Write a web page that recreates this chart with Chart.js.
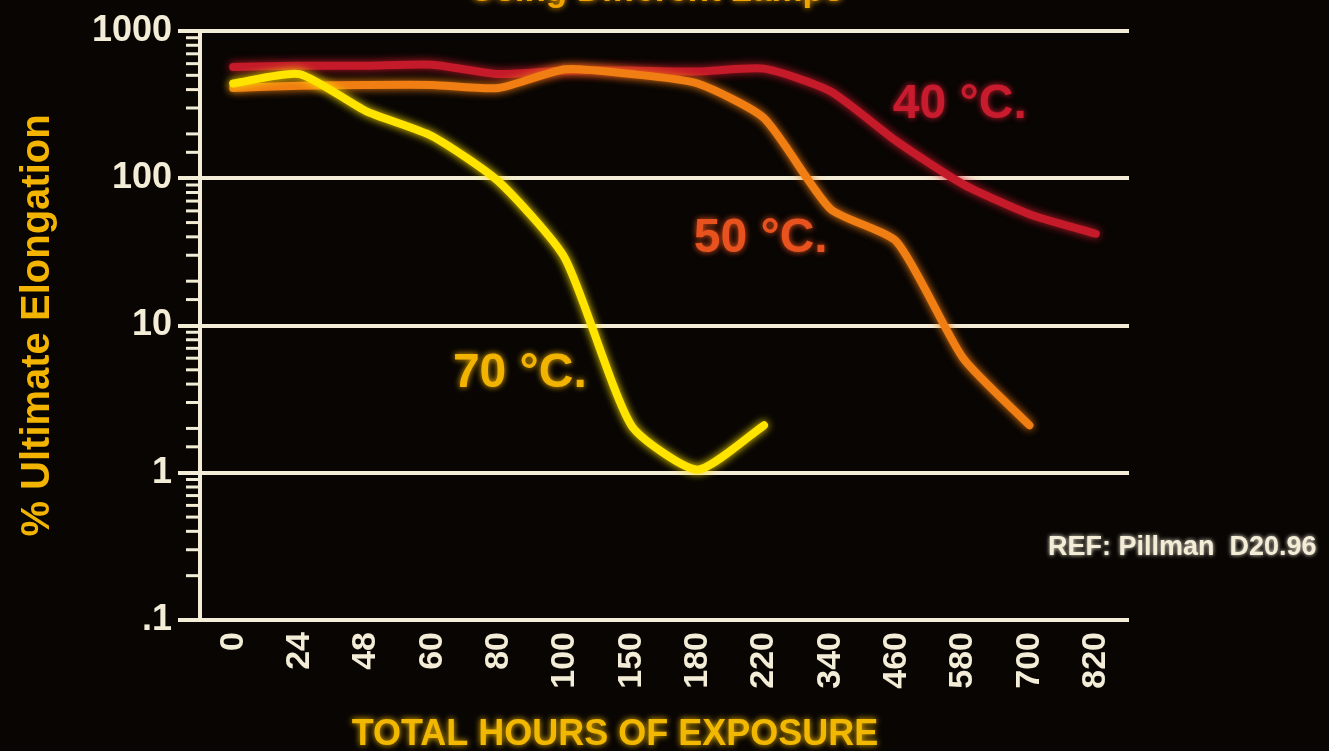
<!DOCTYPE html>
<html>
<head>
<meta charset="utf-8">
<script src="https://cdn.jsdelivr.net/npm/chart.js@4.4.1/dist/chart.umd.min.js"></script>
<style>
html, body { margin: 0; padding: 0; background: #080503; }
#wrap { position: relative; width: 1329px; height: 751px; }
</style>
</head>
<body>
<div id="wrap"><canvas id="elong" width="1329" height="751"></canvas></div>
<script>
// hours of exposure (category axis)
const hours = ['0', '24', '48', '60', '80', '100', '150', '180', '220', '340', '460', '580', '700', '820'];

// % ultimate elongation
const temp40 = [570, 580, 580, 590, 510, 540, 540, 530, 555, 390, 178, 91, 57, 42];
const temp50 = [410, 425, 430, 430, 410, 550, 510, 440, 256, 62, 37, 6.0, 2.1, null];
const temp70 = [440, 510, 286, 193, 95, 28.6, 2.1, 1.05, 2.1, null, null, null, null, null];

const yMajors = [1000, 100, 10, 1, 0.1];
const yMajorText = ['1000', '100', '10', '1', '.1'];

const cream = '#f3ecd6';

function isMajor(v) {
  const l = Math.log10(v);
  return Math.abs(l - Math.round(l)) < 1e-6;
}

function majorText(v) {
  for (var i = 0; i < yMajors.length; i++) {
    if (Math.abs(yMajors[i] - v) < 1e-9) return yMajorText[i];
  }
  return '';
}

// curve labels, placed on the chart's own scales (category index, value)
const curveLabels = [
  { text: '40 °C.', color: '#c81c2e', at: 10.95, val: 318 },
  { text: '50 °C.', color: '#e8521e', at: 7.95, val: 39 },
  { text: '70 °C.', color: '#f2b400', at: 4.32, val: 4.7 }
];

const extras = {
  id: 'extras',
  beforeDatasetDraw(chart, args) {
    const ctx = chart.ctx;
    ctx.save();
    ctx.shadowColor = args.meta.dataset.options.borderColor;
    ctx.shadowBlur = 8;
  },
  afterDatasetDraw(chart) {
    chart.ctx.restore();
  },
  afterDraw(chart) {
    const ctx = chart.ctx;
    const y = chart.scales.y;
    const x = chart.scales.x;
    const axisX = chart.chartArea.left;

    // short minor ticks on the log axis
    ctx.save();
    ctx.strokeStyle = cream;
    ctx.lineWidth = 3;
    y.ticks.forEach(function(t) {
      if (isMajor(t.value)) return;
      const py = y.getPixelForValue(t.value);
      ctx.beginPath();
      ctx.moveTo(axisX - 14, py);
      ctx.lineTo(axisX, py);
      ctx.stroke();
    });
    ctx.restore();

    // temperature labels
    ctx.save();
    ctx.font = 'bold 48px "Liberation Sans", Arial, sans-serif';
    ctx.textAlign = 'center';
    ctx.textBaseline = 'middle';
    curveLabels.forEach(function(l) {
      ctx.fillStyle = l.color;
      ctx.shadowColor = l.color;
      ctx.shadowBlur = 6;
      ctx.fillText(l.text, x.getPixelForValue(l.at), y.getPixelForValue(l.val));
    });
    ctx.restore();

    // x axis title (sits left of centre on the slide)
    ctx.save();
    ctx.font = 'bold 36px "Liberation Sans", Arial, sans-serif';
    ctx.fillStyle = '#f2b800';
    ctx.shadowColor = '#f2b800';
    ctx.shadowBlur = 6;
    ctx.textAlign = 'center';
    ctx.textBaseline = 'middle';
    ctx.fillText('TOTAL HOURS OF EXPOSURE', 615, 735);

    // slide title, cut off by the top edge
    ctx.font = 'bold 35px "Liberation Sans", Arial, sans-serif';
    ctx.fillStyle = '#f0a400';
    ctx.shadowColor = '#f0a400';
    ctx.textAlign = 'left';
    ctx.textBaseline = 'alphabetic';
    ctx.fillText('Using Different Lamps', 470, 1);

    // reference note
    ctx.font = 'bold 27px "Liberation Sans", Arial, sans-serif';
    ctx.fillStyle = cream;
    ctx.shadowColor = cream;
    ctx.shadowBlur = 4;
    ctx.textBaseline = 'middle';
    ctx.fillText('REF: Pillman  D20.96', 1048, 548);
    ctx.restore();
  }
};

const config = {
  type: 'line',
  data: {
    labels: hours,
    datasets: [
      {
        label: '70 °C.',
        data: temp70,
        borderColor: '#ffe400',
        order: 1
      },
      {
        label: '50 °C.',
        data: temp50,
        borderColor: '#f07e12',
        order: 2
      },
      {
        label: '40 °C.',
        data: temp40,
        borderColor: '#c41a2a',
        order: 3
      }
    ]
  },
  options: {
    responsive: false,
    animation: false,
    layout: { padding: { top: 31, right: 200, left: 0, bottom: 0 } },
    elements: {
      line: { borderWidth: 8, tension: 0.2, borderCapStyle: 'round', borderJoinStyle: 'round', fill: false },
      point: { radius: 0, hoverRadius: 0 }
    },
    plugins: {
      legend: { display: false },
      tooltip: { enabled: false },
      title: { display: false }
    },
    scales: {
      x: {
        type: 'category',
        offset: true,
        grid: { display: false, drawTicks: false },
        border: { display: false },
        ticks: {
          color: cream,
          font: { family: '"Liberation Sans", Arial, sans-serif', size: 34, weight: 'bold' },
          minRotation: 90,
          maxRotation: 90,
          autoSkip: false,
          padding: 12
        },
        afterFit(scale) { scale.height = 131; }
      },
      y: {
        type: 'logarithmic',
        min: 0.1,
        max: 1000,
        grid: {
          color: function(c) { return c.tick && isMajor(c.tick.value) ? cream : 'rgba(0,0,0,0)'; },
          tickColor: function(c) { return c.tick && isMajor(c.tick.value) ? cream : 'rgba(0,0,0,0)'; },
          lineWidth: 4,
          tickLength: 22
        },
        border: { display: true, color: cream, width: 4 },
        ticks: {
          color: cream,
          font: { family: '"Liberation Sans", Arial, sans-serif', size: 36, weight: 'bold' },
          autoSkip: false,
          padding: 6,
          callback: function(v) { return majorText(v); }
        },
        title: {
          display: true,
          text: '% Ultimate Elongation',
          color: '#f2b400',
          font: { family: '"Liberation Sans", Arial, sans-serif', size: 40, weight: 'bold' },
          padding: { top: 14, bottom: 0 }
        },
        afterFit(scale) { scale.width = 200; }
      }
    }
  },
  plugins: [extras]
};

const chart = new Chart(document.getElementById('elong'), config);
</script>
</body>
</html>
